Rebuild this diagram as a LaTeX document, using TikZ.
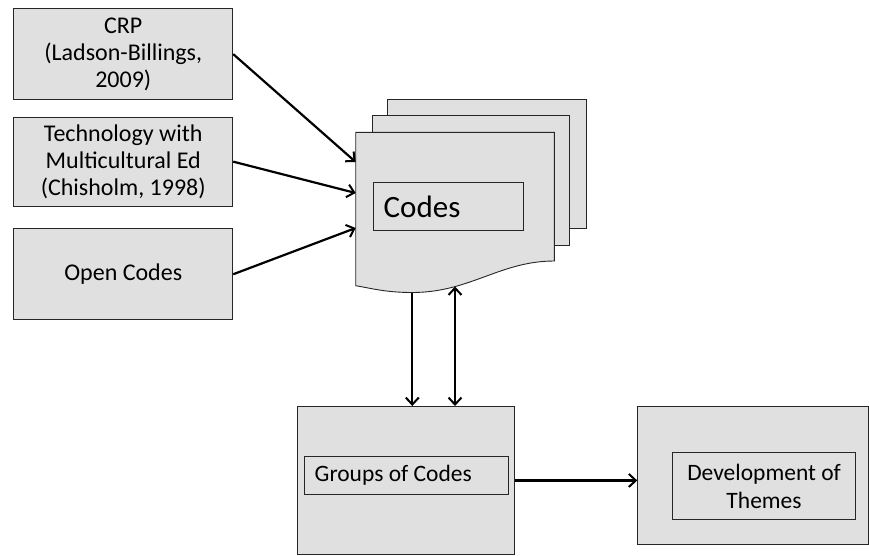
\documentclass[tikz,border=0pt]{standalone}
\usepackage{fontspec}
\setmainfont{Carlito}
\usetikzlibrary{arrows.meta}
\definecolor{boxgray}{RGB}{224,224,224}
\begin{document}
\begin{tikzpicture}[x=1pt,y=-1pt,
  outer/.style={draw=black!85, fill=boxgray, line width=0.9pt, inner sep=0pt, anchor=north west,
    font=\fontsize{24}{27}\selectfont, align=center},
  inner/.style={draw=black!85, fill=boxgray, line width=0.8pt, inner sep=0pt, anchor=north west,
    font=\fontsize{23.5}{28}\selectfont},
  page/.style={draw=black!85, fill=boxgray, line width=0.9pt},
  tip/.style={Straight Barb[length=7pt,width=13pt,line width=2pt]},
  conn/.style={line width=2.2pt, -{Straight Barb[length=7pt,width=13pt,line width=2pt]}},
  dconn/.style={line width=2.2pt, {Straight Barb[length=7pt,width=13pt,line width=2pt]}-{Straight Barb[length=7pt,width=13pt,line width=2pt]}}
]
\useasboundingbox (0,0) rectangle (869,555);

% left boxes
\node[outer, minimum width=219pt, minimum height=90.7pt] (crp) at (13.3,8.3) {CRP\\(Ladson-Billings,\\2009)};
\node[outer, minimum width=219pt, minimum height=89pt] (tech) at (13.3,116.7) {Technology with\\Multicultural Ed\\(Chisholm, 1998)};
\node[outer, minimum width=219pt, minimum height=91pt] (open) at (13.3,228.3) {Open Codes};

% stacked pages
\draw[page] (387.7,99.3) rectangle (586.7,228);
\draw[page] (372,115) rectangle (569,245.7);
\draw[page] (355.7,132.3) -- (554.3,132.3) -- (554.3,261)
  .. controls (500,261) and (470,292.5) .. (412.3,292.5)
  .. controls (385,292.5) and (370,288) .. (355.7,285.7) -- cycle;
\node[inner, minimum width=140.7pt, minimum height=47.7pt, text width=130pt, inner xsep=10pt, align=flush left,
  font=\fontsize{31}{36}\selectfont] (codes) at (373.3,182.3) {Codes};

\coordinate (in1) at (355.7,162);
\coordinate (in2) at (355.7,193);
\coordinate (in3) at (355.7,228);
\coordinate (out1) at (412.3,292.5);
\coordinate (out2) at (455,286.5);

% groups and themes
\node[outer, minimum width=217.6pt, minimum height=148pt] (grp) at (296.7,406) {};
\node[inner, minimum width=194.4pt, minimum height=38.3pt, text width=184pt, inner xsep=10pt, align=flush left] (grpin) at (304.3,456) {Groups of Codes};
\node[outer, minimum width=230.7pt, minimum height=138.3pt] (dev) at (637.3,406) {};
\node[inner, minimum width=182.7pt, minimum height=66.7pt, align=center] (devin) at (672.3,452.3) {Development of\\Themes};

% connectors
\draw[conn] (crp.east) -- (in1);
\draw[conn] (tech.east) -- (in2);
\draw[conn] (open.east) -- (in3);
\draw[conn] (out1) -- (out1 |- grp.north);
\draw[dconn] (out2) -- (out2 |- grp.north);
\draw[conn] (grp.east) -- (dev.west |- grp.east);
\end{tikzpicture}
\end{document}
